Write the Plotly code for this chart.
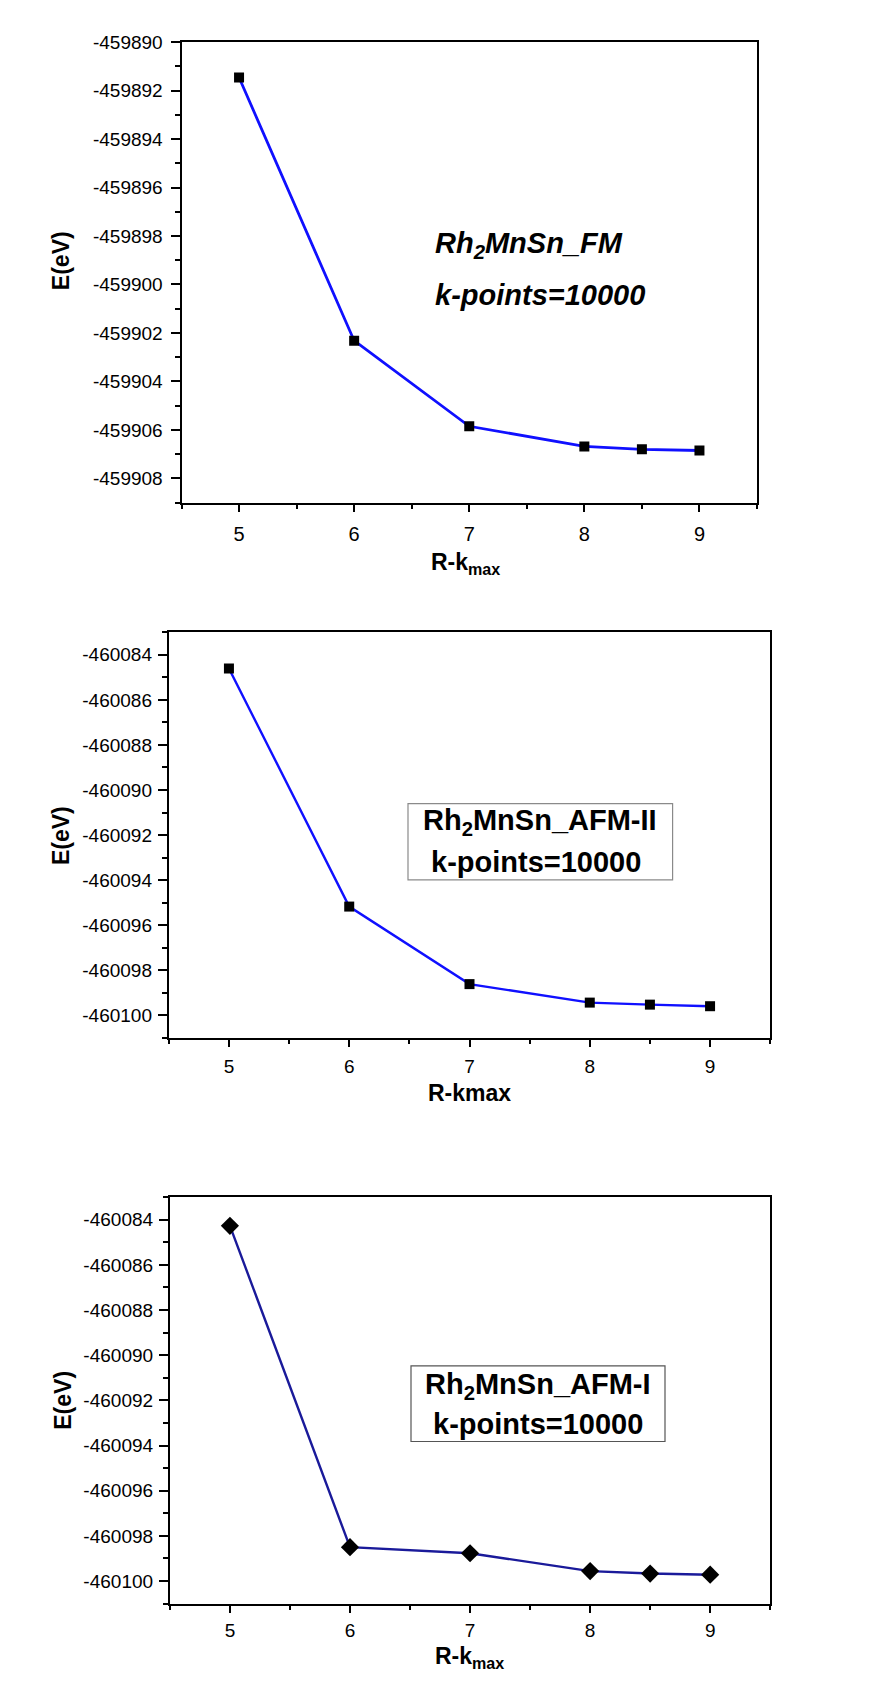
import plotly.graph_objects as go

# ---------------- data ----------------
rk = [5, 6, 7, 8, 8.5, 9]
E_FM = [-459891.46, -459902.32, -459905.85, -459906.68, -459906.80, -459906.85]
E_AFM2 = [-460084.61, -460095.17, -460098.61, -460099.43, -460099.52, -460099.59]
E_AFM1 = [-460084.27, -460098.50, -460098.77, -460099.56, -460099.67, -460099.72]

x_ticks = [5, 6, 7, 8, 9]
y_ticks_FM = [-459890, -459892, -459894, -459896, -459898, -459900, -459902, -459904, -459906, -459908]
y_ticks_AFM = [-460084, -460086, -460088, -460090, -460092, -460094, -460096, -460098, -460100]

W, H = 869, 1681
FONT = "Liberation Sans"

fig = go.Figure()

fig.add_trace(go.Scatter(x=rk, y=E_FM, mode="lines+markers", xaxis="x", yaxis="y",
                         line=dict(color="#1010ff", width=2.8),
                         marker=dict(symbol="square", size=10, color="black"), showlegend=False))
fig.add_trace(go.Scatter(x=rk, y=E_AFM2, mode="lines+markers", xaxis="x2", yaxis="y2",
                         line=dict(color="#1010ff", width=2.4),
                         marker=dict(symbol="square", size=10, color="black"), showlegend=False))
fig.add_trace(go.Scatter(x=rk, y=E_AFM1, mode="lines+markers", xaxis="x3", yaxis="y3",
                         line=dict(color="#1a1a9a", width=2.4),
                         marker=dict(symbol="diamond", size=14, color="black"), showlegend=False))


def px_x(v):
    return v / W


def px_y(v):
    return 1 - v / H


def xax(domain, anchor, standoff, size):
    return dict(domain=domain, anchor=anchor, range=[4.5, 9.5],
                tickvals=x_ticks, ticktext=[str(v) for v in x_ticks],
                showline=True, linecolor="black", linewidth=2, mirror=True,
                ticks="outside", ticklen=7, tickwidth=2, tickcolor="black",
                minor=dict(dtick=0.5, tick0=4.5, ticks="outside", ticklen=4, tickwidth=1.5, tickcolor="black"),
                showgrid=False, zeroline=False, ticklabelstandoff=standoff,
                tickfont=dict(family=FONT, size=size, color="black"))


def yax(domain, anchor, rng, tv, standoff):
    return dict(domain=domain, anchor=anchor, range=rng,
                tickvals=tv, ticktext=[str(v) for v in tv],
                showline=True, linecolor="black", linewidth=2, mirror=True,
                ticks="outside", ticklen=9, tickwidth=2, tickcolor="black",
                minor=dict(dtick=1, tick0=rng[0], ticks="outside", ticklen=5, tickwidth=1.5, tickcolor="black"),
                showgrid=False, zeroline=False, ticklabelstandoff=standoff,
                tickfont=dict(family=FONT, size=19, color="black"))


fig.update_layout(
    width=W, height=H, margin=dict(l=0, r=0, t=0, b=0),
    paper_bgcolor="white", plot_bgcolor="white",
    xaxis=xax([px_x(173.5), px_x(749)], "y", 5, 20),
    yaxis=yax([px_y(487.5), px_y(24.3)], "x", [-459909, -459890], y_ticks_FM, 4),
    xaxis2=xax([px_x(160.8), px_x(762.2)], "y2", 3, 19),
    yaxis2=yax([px_y(1026.1), px_y(617.9)], "x2", [-460101, -460083], y_ticks_AFM, 2),
    xaxis3=xax([px_x(161.9), px_x(762.2)], "y3", 2, 19),
    yaxis3=yax([px_y(1595.1), px_y(1186.2)], "x3", [-460101, -460083], y_ticks_AFM, 2),
)

ann = []


def text(x, y, s, size, xanchor="center", italic=False, angle=0):
    ann.append(dict(x=px_x(x), y=px_y(y), xref="paper", yref="paper", text=s, showarrow=False,
                    xanchor=xanchor, yanchor="middle", textangle=angle,
                    font=dict(family=FONT, size=size, color="black", weight="bold",
                              style="italic" if italic else "normal")))


# axis titles
text(52.6, 244, "E(eV)", 23, angle=-90)
text(457, 549, "R-k<sub>max</sub>", 23)
text(53, 823, "E(eV)", 23, angle=-90)
text(461, 1081, "R-kmax", 23)
text(55, 1391, "E(eV)", 23, angle=-90)
text(462, 1649, "R-k<sub>max</sub>", 23)

# panel labels
text(425, 228, "Rh<sub>2</sub>MnSn_FM", 29, xanchor="left", italic=True)
text(425, 279, "k-points=10000", 29, xanchor="left", italic=True)
text(532, 809, "Rh<sub>2</sub>MnSn_AFM-II", 29)
text(528, 849, "k-points=10000", 29)
text(530, 1376, "Rh<sub>2</sub>MnSn_AFM-I", 29)
text(530, 1414, "k-points=10000", 29)

fig.update_layout(annotations=ann)

fig.add_shape(type="rect", xref="paper", yref="paper",
              x0=px_x(400), x1=px_x(664.6), y0=px_y(867), y1=px_y(790.4),
              line=dict(color="#8a8a8a", width=1.2))
fig.add_shape(type="rect", xref="paper", yref="paper",
              x0=px_x(403), x1=px_x(657), y0=px_y(1432), y1=px_y(1356),
              line=dict(color="#555555", width=1.2))

fig.write_html("out.html")
